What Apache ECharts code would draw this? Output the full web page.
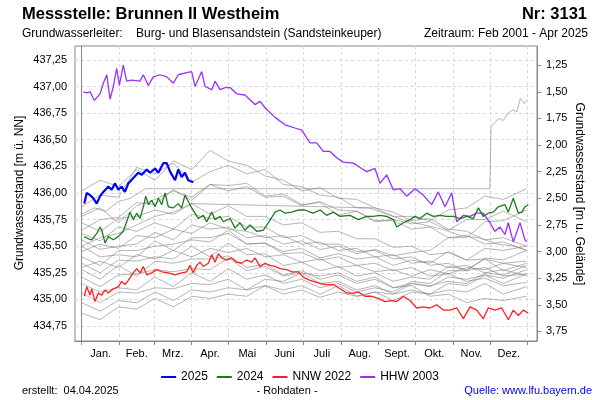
<!DOCTYPE html>
<html>
<head>
<meta charset="utf-8">
<script src="https://cdn.jsdelivr.net/npm/echarts@6/dist/echarts.min.js"></script>
<style>
  html, body { margin: 0; padding: 0; background: #fff; }
  #chart { width: 600px; height: 400px; }
</style>
</head>
<body>
<div id="chart"></div>
<script>
// Monatsachse (Tag im Jahr)
var monthStarts = [0, 31, 59, 90, 120, 151, 181, 212, 243, 273, 304, 334, 365];
var monthMids = [15.5, 45, 74.5, 105, 135.5, 166, 196.5, 227.5, 258, 288.5, 319, 349.5];
var monthNames = ['Jan.', 'Feb.', 'Mrz.', 'Apr.', 'Mai', 'Juni', 'Juli', 'Aug.', 'Sept.', 'Okt.', 'Nov.', 'Dez.'];
var leftTicks = [434.75, 435.00, 435.25, 435.50, 435.75, 436.00, 436.25, 436.50, 436.75, 437.00, 437.25];
var rightTicks = [1.25, 1.50, 1.75, 2.00, 2.25, 2.50, 2.75, 3.00, 3.25, 3.50, 3.75];

// [Tag, m ü. NN]
var y2025 = [[2.1,435.90],[4.1,436.00],[6.8,435.98],[9.5,435.95],[12.3,435.90],[15,435.97],[17.7,436.01],[21.8,436.06],[24.5,436.03],[27.3,436.09],[30,436.03],[32.7,436.06],[35.4,436.01],[38.1,436.09],[42.2,436.14],[46.3,436.19],[49.1,436.17],[53.2,436.22],[55.9,436.19],[60,436.23],[62.7,436.19],[66.8,436.28],[69.6,436.28],[72.3,436.20],[76.4,436.12],[79,436.22],[81.8,436.15],[84.5,436.19],[87.2,436.12],[91.3,436.10]];

var y2024 = [[2.1,435.59],[5.4,435.57],[8.2,435.56],[12.3,435.62],[15,435.68],[16.4,435.65],[19.1,435.53],[21.8,435.59],[25.9,435.56],[30,435.59],[34,435.64],[36.8,435.73],[39.5,435.82],[42.2,435.75],[45,435.81],[47.7,435.76],[50.4,435.87],[52.4,435.97],[54.5,435.89],[57.3,435.93],[60,435.87],[62.7,435.95],[65.5,435.89],[68.2,436.00],[70.9,435.87],[75,435.86],[79,435.90],[81.8,435.86],[84.5,435.98],[87.2,435.92],[90,435.86],[92.7,435.81],[95.4,435.76],[99.5,435.79],[102.3,435.73],[106.4,435.82],[109.1,435.75],[113.2,435.78],[115.9,435.73],[121.4,435.76],[125.5,435.67],[129.5,435.72],[133.6,435.65],[137.7,435.70],[143.2,435.64],[148.6,435.65],[152.7,435.72],[158.2,435.82],[162.3,435.84],[166.4,435.81],[171.8,435.82],[177.2,435.84],[182.7,435.84],[186.9,435.82],[189.5,435.81],[195,435.84],[200.5,435.79],[205.9,435.82],[211.4,435.78],[219.6,435.79],[226.4,435.75],[233.2,435.78],[238.6,435.78],[244.1,435.79],[249.6,435.78],[255,435.75],[257.8,435.68],[263.2,435.72],[268.7,435.75],[272.8,435.78],[276.9,435.76],[282.3,435.81],[287.7,435.78],[293.2,435.79],[298.7,435.78],[304.1,435.78],[309.6,435.76],[315.1,435.78],[320.5,435.76],[324.6,435.86],[328.6,435.78],[332.7,435.81],[336.8,435.82],[340.9,435.87],[346.4,435.89],[349.1,435.82],[353.2,435.95],[357.3,435.81],[360.1,435.82],[362.8,435.87],[365.5,435.89]];

var nnw2022 = [[2.1,435.03],[4.1,435.12],[6.8,435.04],[8.2,435.10],[10.9,434.98],[13.6,435.06],[16.4,435.04],[19.1,435.09],[21.8,435.06],[25.9,435.10],[30,435.12],[32.7,435.17],[35.4,435.14],[38.1,435.18],[42.2,435.25],[45,435.29],[47.7,435.25],[50.4,435.31],[53.2,435.23],[57.3,435.25],[61.4,435.28],[65.5,435.26],[70.9,435.25],[76.4,435.23],[81.8,435.25],[85.9,435.26],[88.6,435.32],[91.3,435.25],[94.1,435.32],[96.8,435.35],[99.5,435.31],[103.6,435.34],[106.4,435.42],[109.1,435.35],[111.8,435.43],[114.6,435.39],[118.7,435.37],[122.7,435.39],[126.8,435.35],[130.9,435.34],[135,435.37],[139.1,435.35],[141.8,435.39],[145.9,435.31],[150,435.34],[154.1,435.32],[158.2,435.31],[162.3,435.29],[167.8,435.28],[171.8,435.26],[177.2,435.26],[181.3,435.21],[186.9,435.18],[189.5,435.17],[195,435.15],[200.5,435.14],[205.9,435.14],[211.4,435.10],[216.9,435.06],[222.3,435.06],[226.4,435.07],[231.8,435.03],[237.3,435.03],[242.7,435.01],[248.2,434.98],[253.7,434.99],[257.8,434.98],[263.2,435.03],[268.7,434.99],[274.1,434.92],[279.5,434.93],[285,434.92],[290.5,434.95],[295.9,434.90],[301.4,434.90],[306.9,434.92],[312.3,434.82],[317.8,434.93],[323.2,434.90],[328.6,434.82],[332.7,434.92],[338.2,434.90],[343.7,434.92],[349.1,434.81],[353.2,434.90],[357.3,434.85],[361.4,434.90],[365.5,434.87]];

var hhw2003 = [[1.3,436.95],[4.1,436.94],[6.8,436.95],[10.3,436.87],[15,436.93],[17.7,437.03],[20.5,437.11],[23.2,436.88],[25.9,437.00],[28.6,437.17],[30.8,437.01],[34,437.20],[36.8,437.05],[40.9,437.06],[47.7,437.05],[50.4,437.11],[54.5,437.01],[58.6,437.09],[64.1,437.11],[69.6,437.09],[75,437.03],[79,437.11],[85.9,437.13],[90,437.14],[92.7,437.00],[98.2,437.14],[100.9,437.00],[106.4,436.97],[109.1,437.05],[113.2,436.97],[117.3,436.99],[121.4,436.99],[127,436.93],[133.6,436.92],[141.8,436.83],[146,436.86],[150,436.80],[158.2,436.71],[166.4,436.64],[174.5,436.61],[180,436.59],[186.9,436.47],[192.3,436.47],[197.7,436.39],[203.2,436.39],[208.7,436.33],[214.1,436.29],[222.3,436.28],[229.1,436.23],[233.2,436.20],[240,436.23],[244.1,436.09],[249.6,436.17],[255,436.03],[260.5,436.04],[266,435.97],[272.8,436.04],[279.5,435.98],[286.4,435.89],[291.8,436.01],[297.3,435.87],[302.8,436.00],[306.9,435.73],[312.3,435.79],[317.8,435.78],[323.2,435.81],[328.6,435.81],[334.1,435.72],[338.2,435.64],[342.3,435.68],[346.4,435.61],[349.1,435.72],[353.2,435.54],[358.7,435.72],[362.8,435.56],[364.2,435.54]];

// übrige Jahre (grau)
var grayDays = [0, 15, 30, 45, 60, 75, 90, 105, 120, 135, 150, 165, 180, 195, 210, 225, 240, 255, 270, 285, 300, 315, 330, 345, 364];
var grayYears = [
  [436.02,436.12,436.06,436.22,436.12,436.30,436.22,436.40,436.30,436.26,436.16,436.12,436.02,436.05,435.95,435.94,435.86,435.82,435.74,435.76,435.66,435.64,435.56,435.58,435.50],
  [435.87,435.98,435.96,436.24,436.18,436.28,436.10,436.20,436.26,436.18,436.22,436.08,436.06,435.98,435.96,435.86,435.86,435.78,435.78,435.74,435.84,435.86,435.97,435.94,436.04],
  [435.78,435.86,435.72,435.88,435.94,436.02,435.96,436.08,436.02,436.06,435.96,435.97,435.88,435.92,435.84,435.83,435.74,435.74,435.66,435.68,435.58,435.60,435.52,435.54,435.46],
  [435.72,435.64,435.76,435.78,435.84,435.80,435.90,435.80,435.88,435.78,435.78,435.70,435.72,435.63,435.64,435.57,435.57,435.49,435.50,435.42,435.44,435.37,435.38,435.34,435.36],
  [435.62,435.55,435.68,435.64,435.72,435.66,435.80,435.76,435.78,435.68,435.68,435.58,435.60,435.52,435.52,435.45,435.46,435.38,435.40,435.32,435.34,435.27,435.30,435.22,435.24],
  [435.56,435.47,435.50,435.52,435.63,435.56,435.70,435.66,435.68,435.58,435.60,435.52,435.55,435.47,435.50,435.43,435.47,435.41,435.44,435.46,435.58,435.58,435.73,435.74,435.84],
  [435.50,435.40,435.42,435.40,435.55,435.46,435.58,435.58,435.62,435.52,435.53,435.43,435.44,435.37,435.40,435.32,435.34,435.27,435.30,435.22,435.24,435.17,435.20,435.13,435.16],
  [435.40,435.32,435.46,435.46,435.50,435.52,435.56,435.54,435.65,435.52,435.53,435.45,435.48,435.39,435.43,435.38,435.40,435.32,435.37,435.34,435.45,435.37,435.48,435.46,435.50],
  [435.34,435.25,435.37,435.36,435.40,435.38,435.50,435.40,435.53,435.42,435.43,435.32,435.35,435.27,435.31,435.22,435.25,435.17,435.21,435.19,435.31,435.28,435.38,435.27,435.34],
  [435.28,435.19,435.32,435.22,435.36,435.34,435.38,435.38,435.41,435.30,435.33,435.23,435.27,435.19,435.23,435.15,435.19,435.11,435.15,435.12,435.21,435.19,435.23,435.20,435.28],
  [435.21,435.12,435.23,435.24,435.28,435.26,435.29,435.28,435.39,435.27,435.31,435.22,435.25,435.15,435.17,435.09,435.13,435.05,435.09,435.05,435.15,435.13,435.23,435.15,435.24],
  [435.15,435.07,435.11,435.09,435.21,435.12,435.25,435.17,435.29,435.19,435.23,435.15,435.19,435.11,435.15,435.07,435.11,435.07,435.17,435.15,435.27,435.27,435.39,435.37,435.46],
  [435.06,434.97,435.07,435.06,435.11,435.10,435.15,435.14,435.19,435.09,435.13,435.05,435.09,435.02,435.07,435.03,435.07,434.99,435.07,435.05,435.09,435.07,435.15,435.05,435.12],
  [434.97,434.89,434.99,434.97,435.07,434.99,435.09,435.07,435.11,435.09,435.19,435.17,435.25,435.22,435.25,435.17,435.21,435.11,435.13,435.03,435.05,434.97,435.01,434.99,435.03],
  [434.87,434.81,434.93,434.91,435.01,434.93,435.03,435.01,435.05,435.03,435.13,435.09,435.13,435.05,435.13,435.03,435.07,435.05,435.15,435.13,435.17,435.15,435.25,435.23,435.32],
  [435.65,435.75,435.77,435.91,435.89,436.03,435.93,436.08,436.07,436.09,435.97,435.99,435.89,435.91,435.79,435.83,435.73,435.75,435.71,435.73,435.65,435.75,435.75,435.83,435.73],
  [435.45,435.52,435.48,435.60,435.58,435.66,435.62,435.72,435.66,435.64,435.58,435.60,435.52,435.54,435.46,435.48,435.40,435.42,435.34,435.36,435.30,435.32,435.25,435.28,435.22],
  [435.30,435.36,435.30,435.42,435.38,435.46,435.40,435.48,435.44,435.48,435.40,435.42,435.35,435.38,435.30,435.32,435.26,435.28,435.22,435.28,435.24,435.30,435.28,435.34,435.30]
];
// Jahre mit Datenlücke (gerade Verbindung)
var grayGapA = [[0,435.80],[10,435.86],[20,435.83],[30,435.92],[40,435.95],[52,436.04],[334,436.04],[335,436.62],[341,436.70],[345,436.68],[349,436.75],[353,436.78],[356,436.76],[359,436.89],[362,436.84],[364,436.87]];
var grayGapB = [[0,435.50],[15,435.58],[30,435.62],[45,435.70],[60,435.78],[75,435.82],[90,435.90],[235,435.86],[250,435.80],[265,435.74],[280,435.70],[295,435.66],[310,435.60],[325,435.58],[340,435.52],[355,435.50],[364,435.46]];

var groundLevel = 438.45;
var font = '"Liberation Sans", Arial, sans-serif';

var chart = echarts.init(document.getElementById('chart'));

var series = [];
function addGray(data) {
    series.push({
        type: 'line', data: data, symbol: 'none', silent: true,
        lineStyle: {color: 'rgba(120,120,120,0.55)', width: 1}
    });
}
grayYears.forEach(function (vals) {
    addGray(vals.map(function (v, i) { return [grayDays[i], v]; }));
});
addGray(grayGapA);
addGray(grayGapB);

function mainLine(name, data, color, width) {
    return {name: name, type: 'line', data: data, symbol: 'none',
        itemStyle: {color: color}, lineStyle: {color: color, width: width}};
}
series.push(
    mainLine('HHW 2003', hhw2003, '#9b30ff', 1.3),
    mainLine('NNW 2022', nnw2022, '#ff2020', 1.3),
    mainLine('2024', y2024, '#1e7a1e', 1.3),
    mainLine('2025', y2025, '#0000ff', 2.2)
);

function fmt(v) { return v.toFixed(2).replace('.', ','); }

chart.setOption({
    animation: false,
    textStyle: {fontFamily: font},
    grid: {left: 75, right: 63, top: 46, bottom: 59, show: true, borderColor: '#888', borderWidth: 1},
    legend: {
        data: ['2025', '2024', 'NNW 2022', 'HHW 2003'],
        top: 366, left: 'center',
        icon: 'rect', itemWidth: 15, itemHeight: 2, itemGap: 9,
        textStyle: {fontSize: 12, color: '#000', fontFamily: font}
    },
    xAxis: {
        type: 'value', min: -5.5, max: 372.6,
        axisLine: {show: true, lineStyle: {color: '#888'}},
        axisTick: {show: true, customValues: monthStarts, length: 4, lineStyle: {color: '#888'}},
        axisLabel: {
            customValues: monthMids, margin: 7, fontSize: 11, color: '#000',
            formatter: function (v) { return monthNames[monthMids.indexOf(v)] || ''; }
        },
        splitLine: {show: true, lineStyle: {color: '#d8d8d8', type: [3, 3]}}
    },
    yAxis: [
        {
            type: 'value', min: 434.61, max: 437.38, position: 'left',
            axisLine: {show: true, lineStyle: {color: '#888'}},
            axisTick: {show: false, customValues: leftTicks},
            axisLabel: {customValues: leftTicks, margin: 8, fontSize: 11, color: '#000', formatter: fmt},
            splitLine: {show: true, lineStyle: {color: '#d8d8d8', type: [3, 3]}}
        },
        {
            type: 'value', inverse: true, position: 'right',
            min: +(groundLevel - 437.38).toFixed(2), max: +(groundLevel - 434.61).toFixed(2),
            axisLine: {show: true, lineStyle: {color: '#888'}},
            axisTick: {show: true, customValues: rightTicks, length: 4, lineStyle: {color: '#888'}},
            axisLabel: {customValues: rightTicks, margin: 9, fontSize: 11, color: '#000', formatter: fmt},
            splitLine: {show: false}
        }
    ],
    graphic: [
        {type: 'text', left: 22, top: 6, style: {text: 'Messstelle: Brunnen II Westheim', font: 'bold 16.5px ' + font, fill: '#000'}},
        {type: 'text', right: 13, top: 6, style: {text: 'Nr: 3131', font: 'bold 16.5px ' + font, fill: '#000'}},
        {type: 'text', left: 22, top: 28, style: {text: 'Grundwasserleiter:    Burg- und Blasensandstein (Sandsteinkeuper)', font: '12px ' + font, fill: '#000'}},
        {type: 'text', right: 12, top: 28, style: {text: 'Zeitraum: Feb 2001 - Apr 2025', font: '12px ' + font, fill: '#000'}},
        {type: 'text', x: 20, y: 193, rotation: Math.PI / 2, style: {text: 'Grundwasserstand [m ü. NN]', font: '12px ' + font, fill: '#000', align: 'center', verticalAlign: 'middle'}},
        {type: 'text', x: 579, y: 194, rotation: -Math.PI / 2, style: {text: 'Grundwasserstand [m u. Gelände]', font: '12px ' + font, fill: '#000', align: 'center', verticalAlign: 'middle'}},
        {type: 'text', left: 22, top: 385, style: {text: 'erstellt:  04.04.2025', font: '11px ' + font, fill: '#000'}},
        {type: 'text', x: 287, y: 391, style: {text: '- Rohdaten -', font: '11px ' + font, fill: '#000', align: 'center', verticalAlign: 'middle'}},
        {type: 'text', right: 8, top: 385, style: {text: 'Quelle: www.lfu.bayern.de', font: '11px ' + font, fill: '#0000ee'}}
    ],
    series: series
});
</script>
</body>
</html>
